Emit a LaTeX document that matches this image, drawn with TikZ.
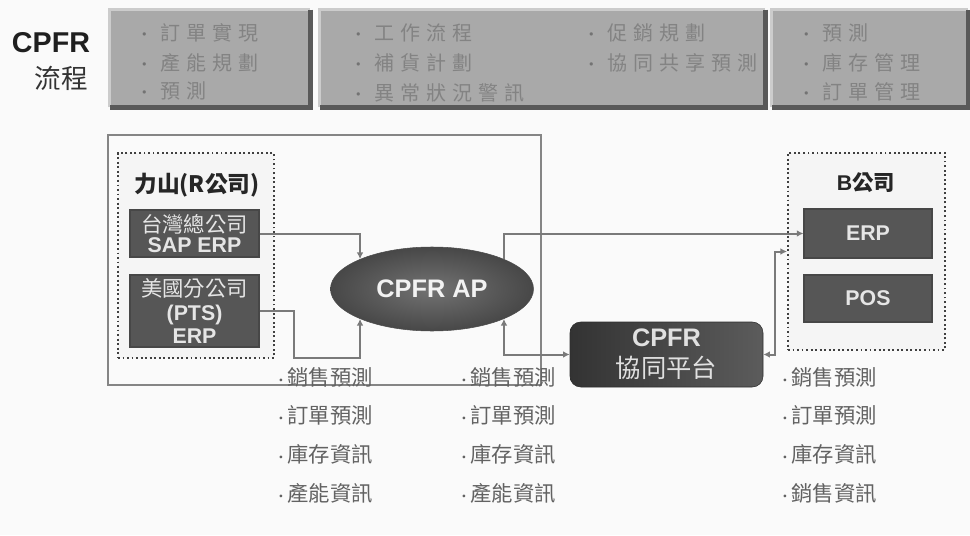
\documentclass[tikz,border=0pt]{standalone}
\usepackage{fontspec}
\setmainfont{Liberation Sans}
\newfontfamily\cjk{Noto Sans CJK TC}
\usetikzlibrary{shapes.geometric,arrows.meta,calc}
\definecolor{bgcol}{HTML}{FAFAFA}
\definecolor{topfill}{HTML}{A9A9A9}
\definecolor{toptext}{HTML}{838383}
\definecolor{darkfill}{HTML}{565656}
\definecolor{conncol}{HTML}{7A7A7A}
\definecolor{listtext}{HTML}{626262}
\newcommand\gs{\hspace{4.5pt}}
\newcommand\bul{{\fontsize{10pt}{10pt}\selectfont\textbullet}}
\newcommand\tbul{{\color{black!55}\fontsize{12pt}{12pt}\selectfont\textbullet}}
\begin{document}
\begin{tikzpicture}[x=0.75pt,y=-0.75pt,
  sz/.style 2 args={minimum width=#1*0.75pt,minimum height=#2*0.75pt},
  topbox/.style={fill=topfill,draw=none,inner sep=0},
  toptxt/.style={anchor=west,inner sep=0,text=toptext,font=\cjk\fontsize{15pt}{17pt}\selectfont},
  darkbox/.style={fill=darkfill,draw=black!72,line width=0.8pt,inner sep=0,text=white!90!black,align=center},
  dotbox/.style={draw=black!75,dotted,line width=1.4pt,fill=black!4,inner sep=0},
  conn/.style={draw=conncol,line width=1.5pt,-{Latex[length=5pt,width=5pt]}},
  conntwo/.style={draw=conncol,line width=1.5pt,{Latex[length=5pt,width=5pt]}-{Latex[length=5pt,width=5pt]}},
  listtxt/.style={anchor=west,inner sep=0,text=listtext,font=\cjk\fontsize{16pt}{18pt}\selectfont},
]
\fill[bgcol] (0,0) rectangle (970,535);
\useasboundingbox (0,0) rectangle (970,535);

% title
\node[font=\bfseries\fontsize{21.5pt}{24pt}\selectfont,text=black!88] (cpfr) at (51,43) {CPFR};
\node[font=\cjk\fontsize{20pt}{22pt}\selectfont,text=black!80] (lc) at (61,78) {流程};

% top boxes
\node[topbox,sz={200}{97}] (tb1) at (210,58.5) {};
\node[topbox,sz={445}{97}] (tb2) at (542.5,58.5) {};
\node[topbox,sz={196}{97}] (tb3) at (870,58.5) {};
\foreach \b in {tb1,tb2,tb3}{
  \draw[line width=2.5pt,black!20] (\b.south west) -- (\b.north west) -- (\b.north east);
  \draw[line width=3.5pt,black!65] (\b.north east) -- (\b.south east) -- (\b.south west);
}
\node[toptxt] (a1) at (136,33) {\tbul\hspace{6pt}訂\gs{}單\gs{}實\gs{}現};
\node[toptxt] (a2) at (136,63) {\tbul\hspace{6pt}產\gs{}能\gs{}規\gs{}劃};
\node[toptxt] (a3) at (136,91) {\tbul\hspace{6pt}預\gs{}測};
\node[toptxt] (b1) at (350,33) {\tbul\hspace{6pt}工\gs{}作\gs{}流\gs{}程};
\node[toptxt] (b2) at (350,63) {\tbul\hspace{6pt}補\gs{}貨\gs{}計\gs{}劃};
\node[toptxt] (b3) at (350,93) {\tbul\hspace{6pt}異\gs{}常\gs{}狀\gs{}況\gs{}警\gs{}訊};
\node[toptxt] (b4) at (583,33) {\tbul\hspace{6pt}促\gs{}銷\gs{}規\gs{}劃};
\node[toptxt] (b5) at (583,63) {\tbul\hspace{6pt}協\gs{}同\gs{}共\gs{}享\gs{}預\gs{}測};
\node[toptxt] (c1) at (798,33) {\tbul\hspace{6pt}預\gs{}測};
\node[toptxt] (c2) at (798,63) {\tbul\hspace{6pt}庫\gs{}存\gs{}管\gs{}理};
\node[toptxt] (c3) at (798,92) {\tbul\hspace{6pt}訂\gs{}單\gs{}管\gs{}理};

% outer frame
\node[draw=black!48,line width=1.5pt,sz={433}{250},inner sep=0] (outer) at (324.5,260) {};

% R company
\node[dotbox,sz={156}{205}] (rbox) at (196,255.5) {};
\node[font=\cjk\bfseries\fontsize{17pt}{20pt}\selectfont,text=black!85] (rlabel) at (197,185) {力山(R公司)};
\node[darkbox,sz={129}{47},font=\fontsize{16pt}{15.5pt}\selectfont] (sap) at (194.5,233.5) {{\cjk 台灣總公司}\\{\bfseries SAP ERP}};
\node[darkbox,sz={129}{72},font=\fontsize{16pt}{17.5pt}\selectfont] (pts) at (194.5,311) {{\cjk 美國分公司}\\{\bfseries (PTS)}\\{\bfseries ERP}};

% CPFR AP
\node[ellipse,inner sep=0,sz={203}{84},draw=black!70,inner color=black!55,outer color=black!72,text=white!95!black,font=\bfseries\fontsize{19pt}{20pt}\selectfont] (ap) at (432,289) {CPFR AP};

% platform
\node[rounded corners=8pt,sz={193}{65},inner sep=0,left color=black!80,right color=black!64,draw=black!82,text=white!88!black,align=center,font=\fontsize{19pt}{23pt}\selectfont] (plat) at (666.5,354.5) {{\bfseries CPFR}\\{\cjk 協同平台}};

% B company
\node[dotbox,sz={157}{197}] (bbox) at (866.5,251.5) {};
\node[font=\bfseries\fontsize{16pt}{18pt}\selectfont,text=black!85] (blabel) at (866,183) {B{\cjk 公司}};
\node[darkbox,sz={128}{49},font=\bfseries\fontsize{16pt}{18pt}\selectfont] (berp) at (868,233.5) {ERP};
\node[darkbox,sz={128}{47},font=\bfseries\fontsize{16pt}{18pt}\selectfont] (pos) at (868,298.5) {POS};

% connectors
\draw[conn] (sap.east) -| (ap.north west);
\draw[conn] (pts.east) -- ++(34,0) |- ($(ap.south west)+(0,39)$) -- (ap.south west);
\draw[conn] (ap.north east) |- (berp.west);
\draw[conntwo] (plat.west) -| (ap.south east);
\draw[conntwo] (plat.east) -- ++(12,0) |- (bbox.west);

% lists
\foreach \t [count=\i] in {銷售預測,訂單預測,庫存資訊,產能資訊}
  \node[listtxt] (la\i) at (274,{377+38.7*(\i-1)}) {\bul\t};
\foreach \t [count=\i] in {銷售預測,訂單預測,庫存資訊,產能資訊}
  \node[listtxt] (lb\i) at (457,{377+38.7*(\i-1)}) {\bul\t};
\foreach \t [count=\i] in {銷售預測,訂單預測,庫存資訊,銷售資訊}
  \node[listtxt] (lc\i) at (778,{377+38.7*(\i-1)}) {\bul\t};
\end{tikzpicture}
\end{document}
